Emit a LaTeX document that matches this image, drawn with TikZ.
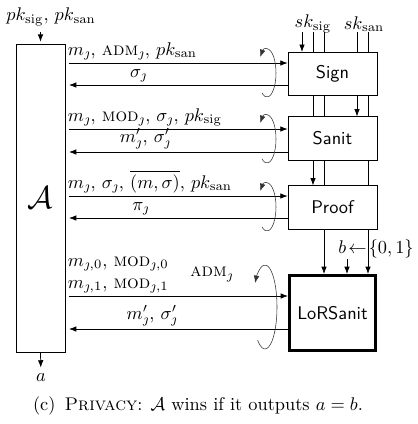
\documentclass[tikz,border=0pt]{standalone}
\usetikzlibrary{arrows.meta,backgrounds}
\begin{document}
\begin{tikzpicture}[x=0.545pt,y=-0.545pt,
  algbox/.style={draw, fill=white, font=\sffamily, minimum width=48.5pt, minimum height=23.7pt, inner sep=0pt},
  qarrow/.style={-{Latex[length=1.4mm]}},
  qlabel/.style={inner sep=1.2pt},
  loopy/.style={-{Latex[length=1.4mm]}, line width=0.3pt, draw=black!80}]
\useasboundingbox (0,0) rectangle (417,424);

% adversary
\node[draw, minimum width=26.7pt, minimum height=167.9pt, inner sep=0pt] (A) at (40.5,198) {\LARGE$\mathcal{A}$};
\node (pk) at (51,17) {$pk_{\mathrm{sig}},\, pk_{\mathrm{san}}$};
\draw[qarrow, shorten >=1pt] (pk.south -| A.north) -- (A.north);
\node (a) at (41,378) {$a$};
\draw[qarrow] (A.south) -- (a);

% oracles
\node[algbox] (sign) at (332.5,74) {Sign};
\node[algbox] (sanit) at (332.5,138.5) {Sanit};
\node[algbox] (proof) at (332.5,207.5) {Proof};
\node[algbox, minimum width=46.9pt, minimum height=40.9pt, line width=1.6pt] (lor) at (332.5,313) {LoRSanit};

% secret keys
\node (sksig) at (313,24) {$sk_{\mathrm{sig}}$};
\node (sksan) at (364,24) {$sk_{\mathrm{san}}$};
\coordinate (w1) at (302,32);
\coordinate (w2) at (313,32);
\coordinate (w3) at (324,32);
\coordinate (w4) at (357,32);
\coordinate (w5) at (368,32);
\begin{scope}[on background layer]
\draw[qarrow] (w1) -- (w1 |- sign.north);
\draw[qarrow] (w2) -- (w2 |- proof.north);
\draw[qarrow] (w3) -- (w3 |- lor.north);
\draw[qarrow] (w4) -- (w4 |- sanit.north);
\draw[qarrow] (w5) -- (w5 |- lor.north);
\end{scope}
\node[anchor=east, inner sep=0pt] (bsel) at (414,249) {$b\!\leftarrow\!\{0,1\}$};
\coordinate (bx) at (347,259);
\draw[qarrow] (bx) -- (bx |- lor.north);

% queries
\coordinate (r1) at (0,63);
\coordinate (r2) at (0,85);
\coordinate (r3) at (0,129);
\coordinate (r4) at (0,152);
\coordinate (r5) at (0,196);
\coordinate (r6) at (0,218);
\coordinate (r7) at (0,296);
\coordinate (r8) at (0,329);

\draw[qarrow, shorten <=2pt] (A.east |- r1) -- (sign.west |- r1) node[pos=0, above right, qlabel]{$m_\jmath,\, \textsc{adm}_\jmath,\, pk_{\mathrm{san}}$};
\draw[qarrow, shorten >=2pt] (sign.west |- r2) -- (A.east |- r2) node[pos=0.67, above, qlabel]{$\sigma_\jmath$};

\draw[qarrow, shorten <=2pt] (A.east |- r3) -- (sanit.west |- r3) node[pos=0, above right, qlabel]{$m_\jmath,\, \textsc{mod}_\jmath,\, \sigma_\jmath,\, pk_{\mathrm{sig}}$};
\draw[qarrow, shorten >=2pt] (sanit.west |- r4) -- (A.east |- r4) node[pos=0.64, above, qlabel]{$m'_\jmath,\, \sigma'_\jmath$};

\draw[qarrow, shorten <=2pt] (A.east |- r5) -- (proof.west |- r5) node[pos=0, above right, qlabel]{$m_\jmath,\, \sigma_\jmath,\, \overline{(m,\sigma)},\, pk_{\mathrm{san}}$};
\draw[qarrow, shorten >=2pt] (proof.west |- r6) -- (A.east |- r6) node[pos=0.66, above, qlabel]{$\pi_\jmath$};

\draw[qarrow, shorten <=2pt] (A.east |- r7) -- (lor.west |- r7) node[pos=0, above right, qlabel, align=left]{$m_{\jmath,0},\, \textsc{mod}_{\jmath,0}$\\$m_{\jmath,1},\, \textsc{mod}_{\jmath,1}$};
\draw[qarrow, shorten >=2pt] (lor.west |- r8) -- (A.east |- r8) node[pos=0.61, above, qlabel]{$m'_\jmath,\, \sigma'_\jmath$};
\node (adm) at (212,274) {$\textsc{adm}_\jmath$};

% repeated queries
\coordinate (l1) at (267,73);
\coordinate (l2) at (267,139);
\coordinate (l3) at (267,207);
\coordinate (l4) at (265,307);
\draw[loopy] (l1) ++(124:9 and 24) arc[start angle=124, end angle=-138, x radius=9, y radius=24];
\draw[loopy] (l2) ++(124:9 and 24) arc[start angle=124, end angle=-138, x radius=9, y radius=24];
\draw[loopy] (l3) ++(124:9 and 24) arc[start angle=124, end angle=-138, x radius=9, y radius=24];
\draw[loopy] (l4) ++(128:12 and 42) arc[start angle=128, end angle=-145, x radius=12, y radius=42];

% caption
\node (cap) at (198,406) {(c)\enspace\textsc{Privacy}: $\mathcal{A}$ wins if it outputs $a=b$.};
\end{tikzpicture}
\end{document}
